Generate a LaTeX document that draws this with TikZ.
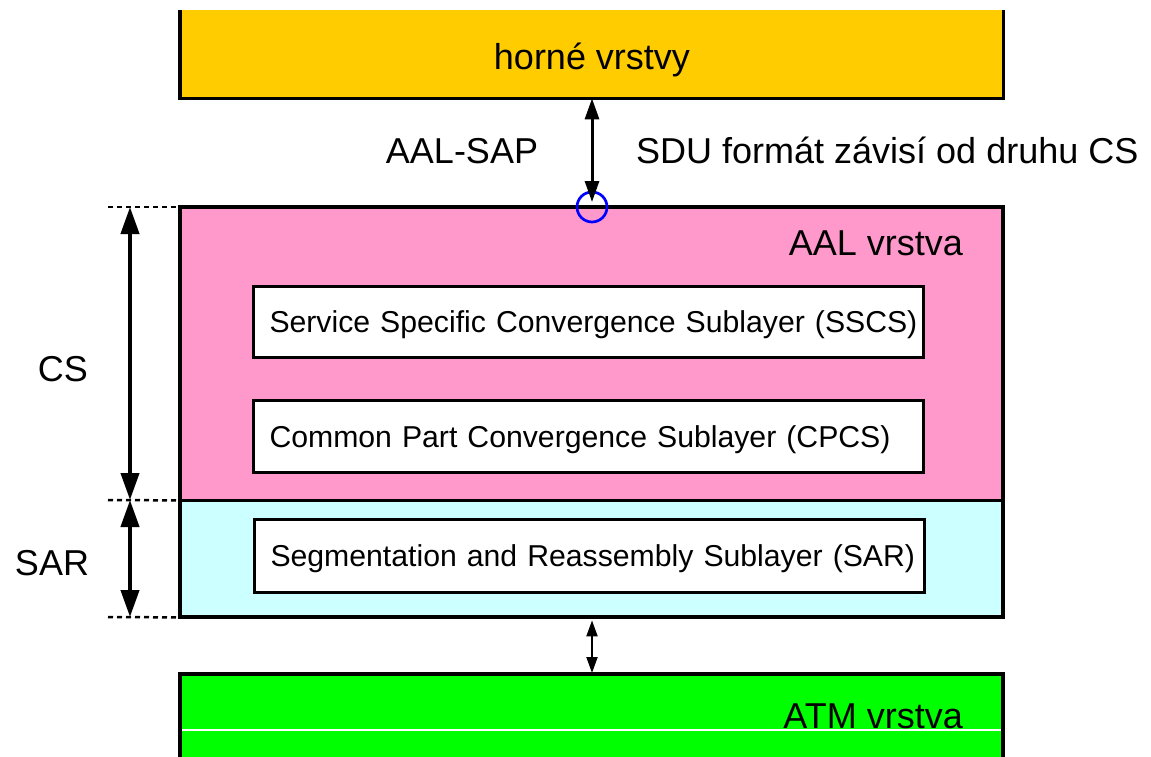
\documentclass[tikz,border=0pt]{standalone}
\usepackage{fontspec}
\setmainfont{Liberation Sans}
\usetikzlibrary{arrows.meta}
\definecolor{upperc}{HTML}{FFCC00}
\definecolor{aalc}{HTML}{FF99CC}
\definecolor{sarc}{HTML}{CCFFFF}
\definecolor{atmc}{HTML}{00FF00}
\definecolor{sapc}{HTML}{0000FF}
\begin{document}
\begin{tikzpicture}[x=1pt,y=-1pt,
  big/.style={font=\fontsize{36}{40}\selectfont, inner sep=0pt},
  layer/.style={inner sep=0pt, anchor=north west, minimum width=823pt},
  sublayer/.style={draw, line width=3pt, fill=white, anchor=north west,
    minimum width=670pt, text width=638pt, inner xsep=16pt, inner ysep=0pt,
    align=left, text height=24pt, text depth=3pt,
    font=\fontsize{30.2}{34}\selectfont},
  bigarrow/.style={line width=4pt, {Triangle[length=27pt,width=18pt]}-{Triangle[length=27pt,width=18pt]}},
  midarrow/.style={line width=3pt, {Triangle[length=21pt,width=14pt]}-{Triangle[length=21pt,width=14pt]}},
  smallarrow/.style={line width=2pt, {Triangle[length=16pt,width=11pt]}-{Triangle[length=16pt,width=11pt]}},
  dotline/.style={line width=2.5pt, dash pattern=on 5pt off 4pt},
]
\useasboundingbox (0,0) rectangle (1151,757);

% upper layers
\node[layer, fill=upperc, minimum height=88pt] (upper) at (180,10) {};
\draw[line width=3.5pt] (upper.north west) -- (upper.south west) -- (upper.south east) -- (upper.north east);
\node[big, anchor=base] (uppertxt) at (592,70) {horné vrstvy};

% AAL layer
\node[layer, fill=aalc, minimum height=293pt] (aal) at (180,207) {};
\node[layer, fill=sarc, minimum height=117pt] (sarl) at (180,500) {};
\draw[line width=2.2pt] (aal.south west) -- (aal.south east);
\draw[line width=4pt] (aal.north west) rectangle (sarl.south east);
\node[big, anchor=base east] (aaltxt) at (963,255) {AAL vrstva};

\node[sublayer, minimum height=71pt] (sscs) at (252,285) {\mbox{Service Specific Convergence Sublayer (SSCS)}};
\node[sublayer, minimum height=72pt] (cpcs) at (252,399) {\mbox{Common Part Convergence Sublayer (CPCS)}};
\node[sublayer, minimum height=73pt] (sar) at (253,518) {\mbox{Segmentation and Reassembly Sublayer (SAR)}};

% ATM layer
\node[layer, fill=atmc, minimum height=84pt] (atm) at (180,674) {};
\draw[line width=4pt] (atm.south west) -- (atm.north west) -- (atm.north east) -- (atm.south east);
\node[big, anchor=base east] (atmtxt) at (963,728) {ATM vrstva};
\draw[white, line width=1.5pt] (182,730) -- (1001,730);

% SAP
\node[draw=sapc, line width=2.7pt, circle, minimum size=30pt, inner sep=0pt] (sap) at (592,207) {};
\draw[midarrow] (upper.south -| sap) -- ([yshift=5pt]sap.center);
\node[big, anchor=base] (saptxt) at (462,164) {AAL-SAP};
\node[big, anchor=base west] (sdutxt) at (636,164) {SDU formát závisí od druhu CS};

% AAL to ATM
\draw[smallarrow] ([yshift=-3pt]sarl.south -| sap) -- ([yshift=1pt]atm.north -| sap);

% left dimensions
\coordinate (dTop) at (108,207);
\coordinate (dMid) at (108,500);
\coordinate (dBot) at (108,617);
\draw[dotline] (dTop) -- (aal.north west);
\draw[dotline] (dMid) -- (aal.south west);
\draw[dotline] (dBot) -- (sarl.south west);
\coordinate (csTop) at (130,207);
\coordinate (csBot) at (130,500);
\coordinate (sarBot) at (130,617);
\draw[bigarrow] (csTop) -- (csBot);
\draw[bigarrow] (csBot) -- (sarBot);
\node[big, anchor=base] (cstxt) at (63,381) {CS};
\node[big, anchor=base] (sartxt) at (52,575) {SAR};
\end{tikzpicture}
\end{document}
